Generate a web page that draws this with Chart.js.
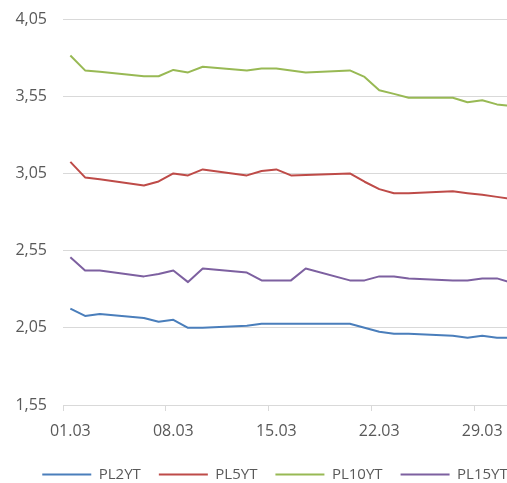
<!DOCTYPE html>
<html>
<head>
<meta charset="utf-8">
<script src="https://cdn.jsdelivr.net/npm/chart.js@4"></script>
<style>
  html, body { margin: 0; padding: 0; overflow: hidden; background: #fff; }
  #wrap { width: 507px; height: 483px; overflow: hidden; }
</style>
</head>
<body>
<div id="wrap"><canvas id="myChart" width="550" height="492"></canvas></div>
<script>
// ------------- data ----------------
const dayLabels = [
  "01.03", "02.03", "03.03", "04.03", "05.03", "06.03", "07.03", "08.03",
  "09.03", "10.03", "11.03", "12.03", "13.03", "14.03", "15.03", "16.03",
  "17.03", "18.03", "19.03", "20.03", "21.03", "22.03", "23.03", "24.03",
  "25.03", "26.03", "27.03", "28.03", "29.03", "30.03", "31.03",
];
// trading days only (weekends have no quotes)
const dates = [
  "01.03", "02.03", "03.03", "06.03", "07.03", "08.03", "09.03", "10.03",
  "13.03", "14.03", "15.03", "16.03", "17.03", "20.03", "21.03", "22.03",
  "23.03", "24.03", "27.03", "28.03", "29.03", "30.03", "31.03",
];
const pl2yt = [2.174, 2.127, 2.140, 2.114, 2.089, 2.102, 2.050, 2.050, 2.063, 2.076, 2.076, 2.076,
  2.076, 2.076, 2.050, 2.024, 2.011, 2.011, 1.998, 1.986, 1.998, 1.986, 1.986];
const pl5yt = [3.125, 3.024, 3.012, 2.972, 2.998, 3.050, 3.037, 3.076, 3.037, 3.065, 3.076, 3.037,
  3.039, 3.050, 2.996, 2.948, 2.922, 2.922, 2.935, 2.922, 2.911, 2.898, 2.884];
const pl10yt = [3.814, 3.717, 3.708, 3.679, 3.679, 3.720, 3.704, 3.741, 3.717, 3.730, 3.730, 3.717,
  3.704, 3.717, 3.675, 3.589, 3.565, 3.540, 3.540, 3.511, 3.524, 3.497, 3.487];
const pl15yt = [2.507, 2.421, 2.421, 2.383, 2.398, 2.421, 2.346, 2.434, 2.408, 2.357, 2.357, 2.357,
  2.434, 2.357, 2.357, 2.383, 2.383, 2.370, 2.357, 2.357, 2.370, 2.370, 2.342];
const yTicks = [1.55, 2.05, 2.55, 3.05, 3.55, 4.05];

// ------------- Chart.js implementation ----------------
const gray = "#595959";
const gridGray = "#d9d9d9";

function series(label, values, color) {
  return {
    label: label,
    data: dates.map((d, i) => ({ x: d, y: values[i] })),
    borderColor: color,
    backgroundColor: color,
    borderWidth: 2,
    borderJoinStyle: "round",
    pointRadius: 0,
    tension: 0,
    fill: false,
  };
}

Chart.defaults.font.family = "'Open Sans', sans-serif";
Chart.defaults.color = gray;

new Chart(document.getElementById("myChart"), {
  type: "line",
  data: {
    labels: dayLabels,
    datasets: [
      series("PL2YT", pl2yt, "#4a7ebb"),
      series("PL5YT", pl5yt, "#be4b48"),
      series("PL10YT", pl10yt, "#98b954"),
      series("PL15YT", pl15yt, "#7d60a0"),
    ],
  },
  options: {
    responsive: false,
    animation: false,
    layout: { padding: { top: 19, left: 0, right: 0, bottom: 0 } },
    plugins: {
      tooltip: { enabled: false },
      legend: {
        position: "bottom",
        labels: {
          usePointStyle: true,
          pointStyle: "line",
          pointStyleWidth: 49,
          padding: 18,
          color: gray,
          font: { size: 15 },
        },
      },
    },
    scales: {
      x: {
        type: "category",
        offset: true,
        afterFit: (s) => { s.height = 44; },
        grid: {
          offset: true,
          drawOnChartArea: false,
          tickLength: 6,
          color: (ctx) => (ctx.index % 7 === 0 ? gridGray : "rgba(0,0,0,0)"),
        },
        border: { color: gridGray, width: 1 },
        ticks: {
          autoSkip: false,
          maxRotation: 0,
          padding: 11,
          font: { size: 16 },
          callback: (v, i) => (i % 7 === 0 ? dayLabels[i] : ""),
        },
      },
      y: {
        min: 1.55,
        max: 4.05,
        afterFit: (s) => { s.width = 63; s.paddingTop = 0; s.paddingBottom = 0; },
        afterBuildTicks: (s) => { s.ticks = yTicks.map((v) => ({ value: v })); },
        grid: { color: gridGray, lineWidth: 1, drawTicks: false },
        border: { display: false },
        ticks: {
          padding: 16,
          font: { size: 16 },
          callback: (v) => v.toFixed(2).replace(".", ","),
        },
      },
      // empty right-hand strip: the original plot area continues past the crop
      spacer: {
        position: "right",
        afterFit: (s) => { s.width = 31; s.paddingTop = 0; s.paddingBottom = 0; },
        grid: { display: false },
        ticks: { display: false },
        border: { display: false },
      },
    },
  },
});
</script>
</body>
</html>
